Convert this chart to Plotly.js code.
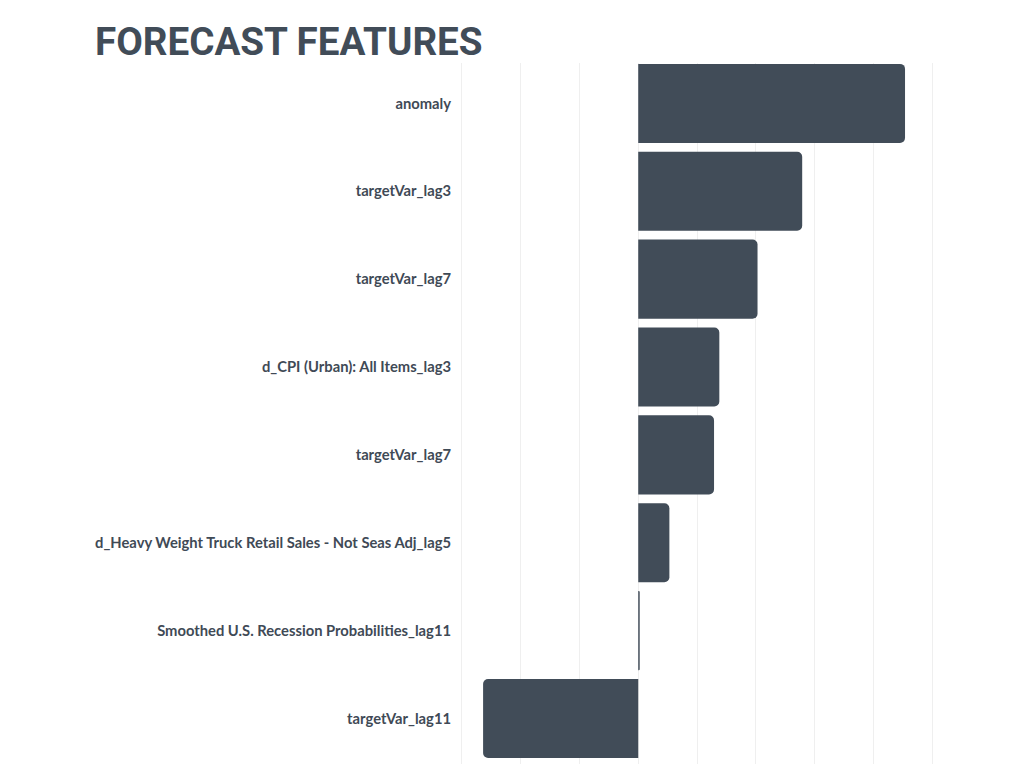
<!DOCTYPE html>
<html><head><meta charset="utf-8">
<script src="https://cdn.plot.ly/plotly-3.0.1.min.js"></script>
<style>html,body{margin:0;padding:0;background:#fff;}#chart{width:1024px;height:768px;}</style>
</head><body><div id="chart"></div>
<script>
const features = [
  "anomaly",
  "targetVar_lag3",
  "targetVar_lag7",
  "d_CPI (Urban): All Items_lag3",
  "targetVar_lag7",
  "d_Heavy Weight Truck Retail Sales - Not Seas Adj_lag5",
  "Smoothed U.S. Recession Probabilities_lag11",
  "targetVar_lag11"
];
const importance = [4.54, 2.79, 2.03, 1.38, 1.29, 0.53, 0.025, -2.64];

const positions = features.map((_, i) => i);

const trace = {
  type: 'bar', orientation: 'h',
  y: positions, x: importance,
  text: features, hoverinfo: 'text+x', textposition: 'none',
  marker: {color: '#414c58', cornerradius: 5}
};
const layout = {
  width: 1024, height: 768,
  paper_bgcolor: '#ffffff', plot_bgcolor: '#ffffff',
  margin: {l: 459, r: 89, t: 63, b: 4},
  bargap: 0.1,
  showlegend: false,
  title: {
    text: '<b>FORECAST FEATURES</b>',
    font: {family: 'Roboto', size: 38.6, color: '#414c58'},
    xref: 'container', x: 95/1024, xanchor: 'left',
    yref: 'container', y: 1 - 41.5/768, yanchor: 'middle'
  },
  xaxis: {
    range: [-3.05, 5.05], dtick: 1, tick0: 0,
    showgrid: true, gridcolor: '#efefef', gridwidth: 1,
    zeroline: false, showticklabels: false, ticks: '', showline: false
  },
  yaxis: {
    range: [7.518, -0.46],
    tickvals: positions, ticktext: features,
    showgrid: false, zeroline: false, showline: false, ticks: '',
    ticklabelstandoff: 7,
    tickfont: {family: 'Lato', size: 14.75, color: '#3f4a56', weight: 'bold'}
  }
};
Plotly.newPlot('chart', [trace], layout, {displayModeBar: false, staticPlot: true});
</script></body></html>
